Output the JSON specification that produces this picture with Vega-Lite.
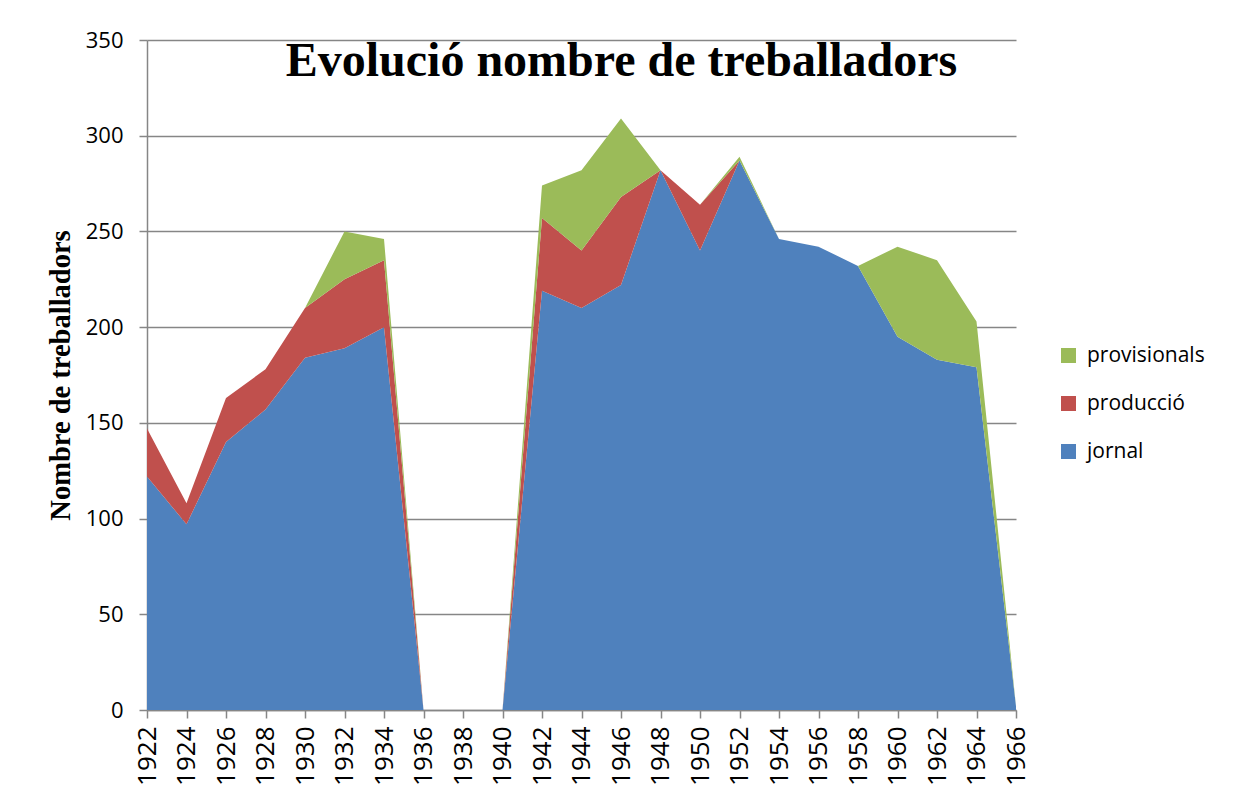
{
  "$schema": "https://vega.github.io/schema/vega-lite/v6.json",
  "width": 869,
  "height": 670,
  "autosize": {"type": "none"},
  "padding": {"left": 147, "top": 40, "right": 223, "bottom": 83},
  "background": "white",
  "title": {
    "text": "Evolució nombre de treballadors",
    "font": "Liberation Serif",
    "fontSize": 48,
    "fontWeight": "bold",
    "color": "black",
    "anchor": "middle",
    "frame": "group",
    "orient": "top",
    "baseline": "alphabetic",
    "offset": 0,
    "dx": 40,
    "dy": 95
  },
  "data": {
    "values": [
      {"year": "1922", "series": "jornal", "value": 122},
      {"year": "1922", "series": "producció", "value": 25},
      {"year": "1922", "series": "provisionals", "value": 0},
      {"year": "1924", "series": "jornal", "value": 97},
      {"year": "1924", "series": "producció", "value": 11},
      {"year": "1924", "series": "provisionals", "value": 0},
      {"year": "1926", "series": "jornal", "value": 140},
      {"year": "1926", "series": "producció", "value": 23},
      {"year": "1926", "series": "provisionals", "value": 0},
      {"year": "1928", "series": "jornal", "value": 157},
      {"year": "1928", "series": "producció", "value": 21},
      {"year": "1928", "series": "provisionals", "value": 0},
      {"year": "1930", "series": "jornal", "value": 184},
      {"year": "1930", "series": "producció", "value": 26},
      {"year": "1930", "series": "provisionals", "value": 0},
      {"year": "1932", "series": "jornal", "value": 189},
      {"year": "1932", "series": "producció", "value": 36},
      {"year": "1932", "series": "provisionals", "value": 25},
      {"year": "1934", "series": "jornal", "value": 200},
      {"year": "1934", "series": "producció", "value": 35},
      {"year": "1934", "series": "provisionals", "value": 11},
      {"year": "1936", "series": "jornal", "value": 0},
      {"year": "1936", "series": "producció", "value": 0},
      {"year": "1936", "series": "provisionals", "value": 0},
      {"year": "1938", "series": "jornal", "value": 0},
      {"year": "1938", "series": "producció", "value": 0},
      {"year": "1938", "series": "provisionals", "value": 0},
      {"year": "1940", "series": "jornal", "value": 0},
      {"year": "1940", "series": "producció", "value": 0},
      {"year": "1940", "series": "provisionals", "value": 0},
      {"year": "1942", "series": "jornal", "value": 219},
      {"year": "1942", "series": "producció", "value": 38},
      {"year": "1942", "series": "provisionals", "value": 17},
      {"year": "1944", "series": "jornal", "value": 210},
      {"year": "1944", "series": "producció", "value": 30},
      {"year": "1944", "series": "provisionals", "value": 42},
      {"year": "1946", "series": "jornal", "value": 222},
      {"year": "1946", "series": "producció", "value": 46},
      {"year": "1946", "series": "provisionals", "value": 41},
      {"year": "1948", "series": "jornal", "value": 282},
      {"year": "1948", "series": "producció", "value": 0},
      {"year": "1948", "series": "provisionals", "value": 0},
      {"year": "1950", "series": "jornal", "value": 240},
      {"year": "1950", "series": "producció", "value": 24},
      {"year": "1950", "series": "provisionals", "value": 0},
      {"year": "1952", "series": "jornal", "value": 287},
      {"year": "1952", "series": "producció", "value": 0},
      {"year": "1952", "series": "provisionals", "value": 2},
      {"year": "1954", "series": "jornal", "value": 246},
      {"year": "1954", "series": "producció", "value": 0},
      {"year": "1954", "series": "provisionals", "value": 0},
      {"year": "1956", "series": "jornal", "value": 242},
      {"year": "1956", "series": "producció", "value": 0},
      {"year": "1956", "series": "provisionals", "value": 0},
      {"year": "1958", "series": "jornal", "value": 232},
      {"year": "1958", "series": "producció", "value": 0},
      {"year": "1958", "series": "provisionals", "value": 0},
      {"year": "1960", "series": "jornal", "value": 195},
      {"year": "1960", "series": "producció", "value": 0},
      {"year": "1960", "series": "provisionals", "value": 47},
      {"year": "1962", "series": "jornal", "value": 183},
      {"year": "1962", "series": "producció", "value": 0},
      {"year": "1962", "series": "provisionals", "value": 52},
      {"year": "1964", "series": "jornal", "value": 179},
      {"year": "1964", "series": "producció", "value": 0},
      {"year": "1964", "series": "provisionals", "value": 24},
      {"year": "1966", "series": "jornal", "value": 2},
      {"year": "1966", "series": "producció", "value": 0},
      {"year": "1966", "series": "provisionals", "value": 0}
    ]
  },
  "mark": {"type": "area", "opacity": 1, "interpolate": "linear"},
  "encoding": {
    "x": {
      "field": "year",
      "type": "ordinal",
      "scale": {"type": "point", "padding": 0},
      "axis": {
        "title": null,
        "labelAngle": -90,
        "labelFont": "Open Sans",
        "labelFontSize": 26,
        "labelColor": "black",
        "labelPadding": 8,
        "tickSize": 8,
        "tickColor": "#868686",
        "tickWidth": 1.5,
        "domainColor": "#868686",
        "domainWidth": 1.5,
        "grid": false
      }
    },
    "y": {
      "field": "value",
      "type": "quantitative",
      "stack": "zero",
      "scale": {"domain": [0, 350], "nice": false},
      "axis": {
        "values": [0, 50, 100, 150, 200, 250, 300, 350],
        "title": "Nombre de treballadors",
        "titleFont": "Liberation Serif",
        "titleFontSize": 28.5,
        "titleFontWeight": "bold",
        "titleColor": "black",
        "titleAngle": -90,
        "titleX": -87,
        "titleY": 335,
        "titleAlign": "center",
        "titleBaseline": "middle",
        "labelFont": "Open Sans",
        "labelFontSize": 22,
        "labelColor": "black",
        "labelPadding": 16,
        "tickSize": 8,
        "tickColor": "#868686",
        "tickWidth": 1.5,
        "domainColor": "#868686",
        "domainWidth": 1.5,
        "grid": true,
        "gridColor": "#868686",
        "gridWidth": 1.5
      }
    },
    "color": {
      "field": "series",
      "type": "nominal",
      "scale": {
        "domain": ["provisionals", "producció", "jornal"],
        "range": ["#9BBB59", "#C0504D", "#4F81BD"]
      },
      "legend": {
        "title": null,
        "orient": "none",
        "legendX": 911,
        "legendY": 305,
        "symbolType": "square",
        "symbolSize": 225,
        "symbolStrokeWidth": 0,
        "labelFont": "Open Sans",
        "labelFontSize": 21,
        "labelColor": "black",
        "labelOffset": 8,
        "rowPadding": 26
      }
    },
    "order": {"field": "series", "sort": "ascending"}
  },
  "config": {
    "view": {"stroke": null},
    "axis": {"gridOpacity": 1}
  }
}
